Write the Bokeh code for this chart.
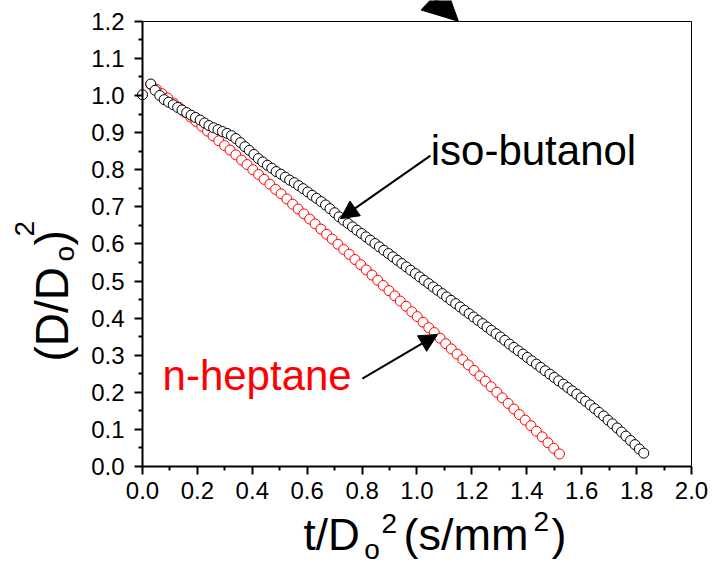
import math
from bokeh.plotting import figure
from bokeh.models import (Range1d, FixedTicker, NumeralTickFormatter, Label, Arrow,
                          NormalHead, LinearAxis)
from bokeh.embed import file_html
from bokeh.resources import INLINE

# ---------------- data ----------------
butanol_x = [
    0.000, 0.030, 0.046, 0.063, 0.079, 0.095, 0.112, 0.128, 0.144, 0.161,
    0.177, 0.193, 0.210, 0.226, 0.242, 0.259, 0.275, 0.291, 0.308, 0.324,
    0.340, 0.357, 0.373, 0.389, 0.406, 0.422, 0.438, 0.455, 0.471, 0.487,
    0.504, 0.520, 0.536, 0.553, 0.569, 0.585, 0.602, 0.618, 0.634, 0.651,
    0.667, 0.683, 0.700, 0.716, 0.732, 0.749, 0.765, 0.781, 0.798, 0.814,
    0.830, 0.847, 0.863, 0.879, 0.896, 0.912, 0.928, 0.945, 0.961, 0.977,
    0.994, 1.010, 1.026, 1.043, 1.059, 1.075, 1.092, 1.108, 1.124, 1.141,
    1.157, 1.173, 1.190, 1.206, 1.222, 1.239, 1.255, 1.271, 1.288, 1.304,
    1.320, 1.337, 1.353, 1.369, 1.386, 1.402, 1.418, 1.435, 1.451, 1.467,
    1.484, 1.500, 1.516, 1.533, 1.549, 1.565, 1.582, 1.598, 1.614, 1.631,
    1.647, 1.663, 1.680, 1.696, 1.712, 1.729, 1.745, 1.761, 1.778, 1.794,
    1.810, 1.826,
]
butanol_y = [
    1.002, 1.031, 1.014, 1.000, 0.989, 0.982, 0.975, 0.968, 0.961, 0.954,
    0.947, 0.941, 0.934, 0.926, 0.919, 0.913, 0.908, 0.903, 0.898, 0.892,
    0.884, 0.873, 0.862, 0.852, 0.841, 0.830, 0.821, 0.812, 0.804, 0.795,
    0.788, 0.780, 0.772, 0.765, 0.757, 0.749, 0.740, 0.731, 0.723, 0.714,
    0.705, 0.695, 0.684, 0.673, 0.664, 0.655, 0.646, 0.637, 0.628, 0.619,
    0.610, 0.601, 0.592, 0.583, 0.574, 0.565, 0.556, 0.547, 0.538, 0.529,
    0.520, 0.511, 0.502, 0.493, 0.484, 0.475, 0.466, 0.457, 0.448, 0.439,
    0.430, 0.421, 0.412, 0.403, 0.394, 0.385, 0.376, 0.367, 0.358, 0.349,
    0.340, 0.330, 0.321, 0.312, 0.303, 0.294, 0.285, 0.276, 0.267, 0.258,
    0.249, 0.240, 0.231, 0.222, 0.213, 0.204, 0.195, 0.185, 0.176, 0.166,
    0.156, 0.146, 0.136, 0.125, 0.115, 0.104, 0.093, 0.082, 0.070, 0.059,
    0.047, 0.036,
]
heptane_x = [
    0.030, 0.051, 0.071, 0.092, 0.113, 0.133, 0.154, 0.175, 0.195, 0.216,
    0.237, 0.257, 0.278, 0.299, 0.319, 0.340, 0.361, 0.381, 0.402, 0.423,
    0.443, 0.464, 0.485, 0.505, 0.526, 0.547, 0.567, 0.588, 0.609, 0.629,
    0.650, 0.671, 0.691, 0.712, 0.733, 0.753, 0.774, 0.795, 0.815, 0.836,
    0.857, 0.877, 0.898, 0.919, 0.939, 0.960, 0.981, 1.001, 1.022, 1.043,
    1.063, 1.084, 1.105, 1.125, 1.146, 1.167, 1.187, 1.208, 1.229, 1.249,
    1.270, 1.291, 1.311, 1.332, 1.353, 1.373, 1.394, 1.415, 1.435, 1.456,
    1.477, 1.498, 1.519,
]
heptane_y = [
    1.030, 1.017, 1.005, 0.993, 0.980, 0.968, 0.955, 0.942, 0.930, 0.917,
    0.904, 0.891, 0.878, 0.865, 0.853, 0.840, 0.826, 0.814, 0.800, 0.787,
    0.774, 0.761, 0.747, 0.735, 0.721, 0.707, 0.694, 0.681, 0.667, 0.654,
    0.640, 0.626, 0.613, 0.599, 0.585, 0.572, 0.558, 0.544, 0.530, 0.516,
    0.502, 0.488, 0.474, 0.460, 0.446, 0.432, 0.417, 0.404, 0.389, 0.374,
    0.361, 0.346, 0.331, 0.317, 0.303, 0.288, 0.274, 0.259, 0.244, 0.230,
    0.215, 0.200, 0.185, 0.170, 0.155, 0.140, 0.125, 0.110, 0.095, 0.080,
    0.064, 0.049, 0.034,
]
x_ticks = [0.0, 0.2, 0.4, 0.6, 0.8, 1.0, 1.2, 1.4, 1.6, 1.8, 2.0]
x_minor = [0.1, 0.3, 0.5, 0.7, 0.9, 1.1, 1.3, 1.5, 1.7, 1.9]
y_ticks = [0.0, 0.1, 0.2, 0.3, 0.4, 0.5, 0.6, 0.7, 0.8, 0.9, 1.0, 1.1, 1.2]
y_minor = [0.05, 0.15, 0.25, 0.35, 0.45, 0.55, 0.65, 0.75, 0.85, 0.95, 1.05, 1.15]

FONT = "Liberation Sans"
W, H = 712, 566
# frame covers whole canvas; axes are pinned at data positions
X_LO, X_HI = -0.5173, 2.0765
Y_LO, Y_HI = -0.2695, 1.2561

p = figure(width=W, height=H, x_range=Range1d(X_LO, X_HI), y_range=Range1d(Y_LO, Y_HI),
           output_backend="svg", toolbar_location=None,
           x_axis_location=None, y_axis_location=None,
           min_border_left=0, min_border_right=0, min_border_top=0, min_border_bottom=0)
p.xgrid.visible = False
p.ygrid.visible = False
p.outline_line_color = None
p.background_fill_color = "white"
p.border_fill_color = "white"

def style(ax):
    ax.formatter = NumeralTickFormatter(format="0.0")
    ax.axis_line_width = 2
    ax.axis_line_color = "black"
    ax.major_tick_line_width = 2
    ax.major_tick_line_color = "black"
    ax.minor_tick_line_width = 2
    ax.minor_tick_line_color = "black"
    ax.major_tick_in = 0
    ax.major_tick_out = 8
    ax.minor_tick_in = 0
    ax.minor_tick_out = 4
    ax.major_label_text_font = FONT
    ax.major_label_text_font_size = "24px"
    ax.major_label_text_color = "black"

xaxis = LinearAxis(fixed_location=0.0, bounds=(0.0, 2.0),
                   ticker=FixedTicker(ticks=x_ticks, minor_ticks=x_minor))
style(xaxis)
xaxis.major_label_standoff = 7
yaxis = LinearAxis(fixed_location=0.0, bounds=(0.0, 1.2),
                   ticker=FixedTicker(ticks=y_ticks, minor_ticks=y_minor))
style(yaxis)
yaxis.major_label_standoff = 10

def border_axis(loc, bounds):
    ax = LinearAxis(fixed_location=loc, bounds=bounds, ticker=FixedTicker(ticks=[]))
    ax.axis_line_width = 1
    ax.axis_line_color = "black"
    ax.major_tick_line_color = None
    ax.minor_tick_line_color = None
    ax.major_label_text_font_size = "0px"
    return ax

p.add_layout(border_axis(1.2, (0.0, 2.0)), "above")
p.add_layout(border_axis(2.0, (0.0, 1.2)), "right")

p.scatter(heptane_x, heptane_y, marker="circle", size=10, line_color="red",
          fill_color="white", line_width=1)
p.scatter(butanol_x, butanol_y, marker="circle", size=10, line_color="black",
          fill_color="white", line_width=1)

p.add_layout(xaxis, "below")
p.add_layout(yaxis, "left")

def lab(x, y, text, size, color="black", angle=0.0):
    p.add_layout(Label(x=x, y=y, text=text, text_font=FONT, text_font_size=size,
                       text_color=color, text_align="left", text_baseline="alphabetic",
                       angle=angle))

# annotations
lab(1.05, 0.852, "iso-butanol", "42px")
lab(0.073, 0.245, "n-heptane", "42px", color="red")

p.add_layout(Arrow(end=NormalHead(size=18, fill_color="black", line_color="black"),
                   x_start=1.049, y_start=0.838, x_end=0.721, y_end=0.668,
                   line_width=2, line_color="black"))
p.add_layout(Arrow(end=NormalHead(size=18, fill_color="black", line_color="black"),
                   x_start=0.801, y_start=0.237, x_end=1.075, y_end=0.356,
                   line_width=2, line_color="black"))
p.add_layout(Arrow(end=NormalHead(size=35, fill_color="black", line_color="black"),
                   x_start=0.940, y_start=1.348, x_end=1.151, y_end=1.200,
                   line_width=3, line_color="black"))

# x axis title pieces
lab(0.5865, -0.184, "t/D", "44px")
lab(0.808, -0.2245, "o", "28px")
lab(0.8707, -0.1544, "2", "28px")
lab(0.9508, -0.184, "(s/mm", "45px")
lab(1.4244, -0.149, "2", "28px")
lab(1.490, -0.184, ")", "45px")

# y axis title pieces (rotated)
R = math.pi / 2
lab(-0.329, 0.283, "(D/D", "46px", angle=R)
lab(-0.2831, 0.5526, "o", "28px", angle=R)
lab(-0.329, 0.5957, ")", "46px", angle=R)
lab(-0.4288, 0.620, "2", "28px", angle=R)

open("out.html", "w").write(file_html(p, INLINE))
